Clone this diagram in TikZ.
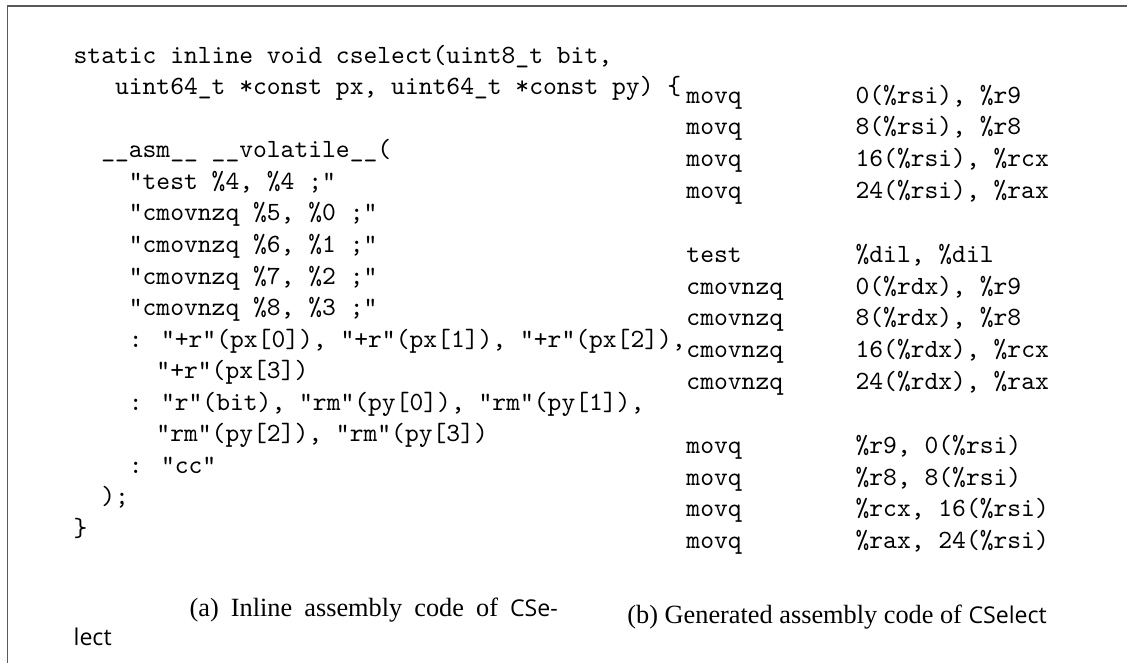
\documentclass[tikz,border=0pt]{standalone}
\usepackage{fontspec}
\newfontfamily\namefont{Open Sans}[Scale=0.88]
\newfontfamily\capfont{Liberation Serif}
\usetikzlibrary{positioning}

% one typewriter cell, for indenting the source lines
\newlength{\chw}
\setlength{\chw}{5.25pt}
\newcommand{\ind}[1]{\hspace*{#1\chw}}
\newcommand{\cname}[1]{{\namefont #1}}

\begin{document}
\begin{tikzpicture}[
  x=1pt, y=1pt,
  code/.style={anchor=base west, inner sep=0pt, font=\ttfamily\fontsize{10}{12}\selectfont},
  caption/.style={anchor=base west, inner sep=0pt, font=\capfont\fontsize{10}{12}\selectfont},
  frame/.style={draw=black!65, line width=0.6pt}
]
  \useasboundingbox (0,0) rectangle (428.5,-252.1);
  \draw[frame] (2.85,-252.1) |- (428.5,-2.3);

  % (a) C source with the inline asm block
  \foreach \row/\code in {
      0/{static inline void cselect(uint8\_t bit,},
      1/{\ind{3}uint64\_t *const px, uint64\_t *const py) \{},
      3/{\ind{2}\_\_asm\_\_ \_\_volatile\_\_(},
      4/{\ind{4}"test \%4, \%4 ;"},
      5/{\ind{4}"cmovnzq \%5, \%0 ;"},
      6/{\ind{4}"cmovnzq \%6, \%1 ;"},
      7/{\ind{4}"cmovnzq \%7, \%2 ;"},
      8/{\ind{4}"cmovnzq \%8, \%3 ;"},
      9/{\ind{4}: "+r"(px[0]), "+r"(px[1]), "+r"(px[2]),},
      10/{\ind{6}"+r"(px[3])},
      11/{\ind{4}: "r"(bit), "rm"(py[0]), "rm"(py[1]),},
      12/{\ind{6}"rm"(py[2]), "rm"(py[3])},
      13/{\ind{4}: "cc"},
      14/{\ind{2});},
      15/{\}}}
    \node[code] (inl-\row) at (27.8,-24.0-12*\row) {\code};

  % (b) what the compiler emits
  \foreach \row/\op/\arg in {
      0/movq/{0(\%rsi), \%r9},
      1/movq/{8(\%rsi), \%r8},
      2/movq/{16(\%rsi), \%rcx},
      3/movq/{24(\%rsi), \%rax},
      5/test/{\%dil, \%dil},
      6/cmovnzq/{0(\%rdx), \%r9},
      7/cmovnzq/{8(\%rdx), \%r8},
      8/cmovnzq/{16(\%rdx), \%rcx},
      9/cmovnzq/{24(\%rdx), \%rax},
      11/movq/{\%r9, 0(\%rsi)},
      12/movq/{\%r8, 8(\%rsi)},
      13/movq/{\%rcx, 16(\%rsi)},
      14/movq/{\%rax, 24(\%rsi)}}
    \node[code] (gen-\row) at (260.8,-39.2-12.1*\row) {\makebox[64.3pt][l]{\op}\arg};

  % sub-captions
  \node[caption] (cap-a) at (71.9,-234.5) {\makebox[140pt][s]{(a) Inline assembly code of \cname{CSe-}}};
  \node[caption] (cap-a2) at (27.8,-245.3) {\cname{lect}};
  \node[caption, anchor=base] (cap-b) at (318.3,-236.9) {(b) Generated assembly code of \cname{CSelect}};
\end{tikzpicture}
\end{document}
